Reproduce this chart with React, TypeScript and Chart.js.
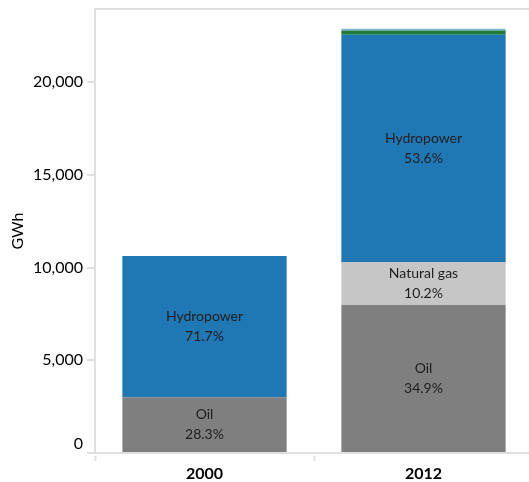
import React, { useEffect, useRef } from 'react';
import { Chart, registerables } from 'chart.js';

Chart.register(...registerables);

const categories = ['2000', '2012'];
const seriesNames = ['Oil', 'Natural gas', 'Hydropower', 'Wind', 'Solar'];
const oil = [3005, 7980];
const naturalGas = [0, 2326];
const hydropower = [7615, 12260];
const wind = [0, 230];
const solar = [0, 95];
const seriesColors = ['#7f7f7f', '#c6c6c6', '#1f77b4', '#217a3c', '#7cbad8'];
const labelledSeries = [true, true, true, false, false];
const yTicks = [0, 5000, 10000, 15000, 20000];
const yMax = 23950;
const yTitle = 'GWh';

const FONT = "Lato, 'Open Sans', sans-serif";
const LINE = '#e0e0e0';

const segmentLabels = {
  id: 'segmentLabels',
  afterDatasetsDraw(chart: any) {
    const ctx = chart.ctx;
    const datasets = chart.data.datasets;
    const n = chart.data.labels.length;
    ctx.save();
    ctx.font = `14px ${FONT}`;
    ctx.fillStyle = '#1e1e1e';
    ctx.textAlign = 'center';
    ctx.textBaseline = 'middle';
    for (let i = 0; i < n; i++) {
      let total = 0;
      datasets.forEach((d: any) => (total += d.data[i]));
      datasets.forEach((d: any, di: number) => {
        if (!labelledSeries[di]) return;
        const v = d.data[i];
        if (!v) return;
        const bar = chart.getDatasetMeta(di).data[i];
        const cy = (bar.y + bar.base) / 2;
        ctx.fillText(d.label, bar.x, cy - 10);
        ctx.fillText(((v / total) * 100).toFixed(1) + '%', bar.x, cy + 10);
      });
    }
    ctx.restore();
  },
};

export default function App() {
  const canvasRef = useRef<HTMLCanvasElement | null>(null);

  useEffect(() => {
    if (!canvasRef.current) return;
    const values = [oil, naturalGas, hydropower, wind, solar];
    const chart = new Chart(canvasRef.current, {
      type: 'bar',
      data: {
        labels: categories,
        datasets: values.map((v, i) => ({
          label: seriesNames[i],
          data: v,
          backgroundColor: seriesColors[i],
          borderWidth: 0,
          barPercentage: 0.75,
          categoryPercentage: 1,
        })),
      },
      options: {
        responsive: false,
        animation: false,
        layout: { padding: { left: 4, top: 9, right: 1, bottom: 0 } },
        plugins: {
          legend: { display: false },
          tooltip: { enabled: false },
        },
        scales: {
          x: {
            stacked: true,
            offset: true,
            border: { display: false },
            grid: {
              offset: true,
              drawOnChartArea: false,
              drawTicks: true,
              tickLength: 8,
              tickColor: LINE,
              tickWidth: 2,
              tickBorderDash: [0, 3, 5, 100],
            },
            ticks: {
              color: '#000',
              font: { family: FONT, size: 16, weight: 'bold' },
              padding: 3,
            },
            afterFit: (scale: any) => {
              scale.height = 29;
              scale.paddingLeft = 0;
              scale.paddingRight = 0;
            },
          },
          y: {
            stacked: true,
            min: 0,
            max: yMax,
            border: { display: true, color: LINE, width: 2 },
            grid: {
              drawOnChartArea: true,
              lineWidth: 2,
              color: (c: any) =>
                c.tick && (c.tick.value === 0 || c.tick.value === yMax) ? LINE : 'rgba(0,0,0,0)',
              tickColor: (c: any) =>
                c.tick && c.tick.value === yMax ? 'rgba(0,0,0,0)' : LINE,
              tickLength: 8,
              tickWidth: 2,
            },
            afterBuildTicks: (scale: any) => {
              scale.ticks = [...yTicks, yMax].map((v) => ({ value: v }));
            },
            ticks: {
              color: '#000',
              font: { family: FONT, size: 16 },
              padding: 4,
              callback: (v: any) =>
                v === yMax ? '' : v === 0 ? ['0', ''] : Number(v).toLocaleString('en-US'),
            },
            title: {
              display: true,
              text: yTitle,
              color: '#000',
              font: { family: FONT, size: 16 },
              padding: { top: 4, bottom: 4 },
            },
            afterFit: (scale: any) => {
              scale.width = 91;
              scale.paddingTop = 0;
              scale.paddingBottom = 0;
            },
          },
        },
      },
      plugins: [segmentLabels],
    } as any);
    return () => chart.destroy();
  }, []);

  return (
    <div
      style={{
        position: 'fixed',
        left: 0,
        top: 0,
        width: 529,
        height: 482,
        overflow: 'hidden',
        background: '#fff',
      }}
    >
      <canvas ref={canvasRef} width={534} height={482} style={{ width: 534, height: 482, display: 'block' }} />
    </div>
  );
}
